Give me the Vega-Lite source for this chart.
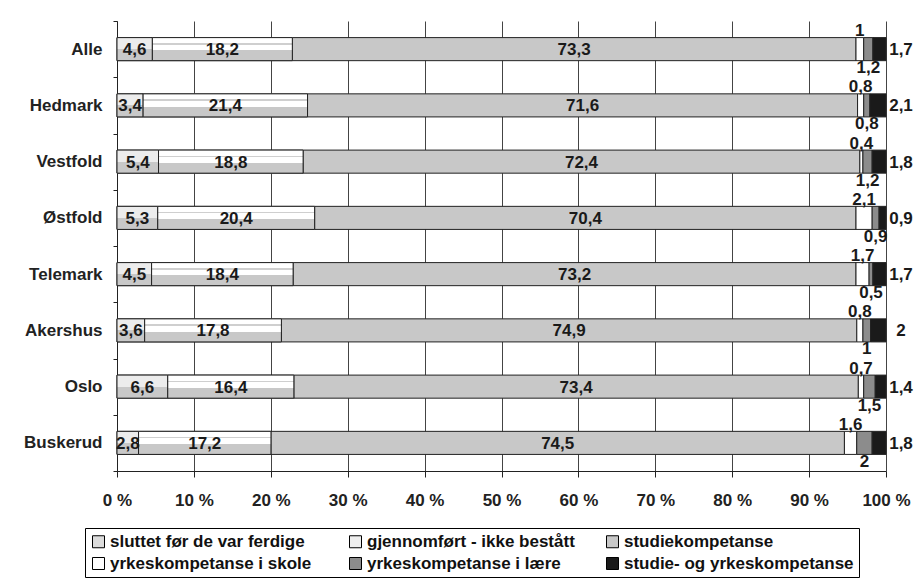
{
  "$schema": "https://vega.github.io/schema/vega-lite/v6.json",
  "width": 769,
  "height": 450,
  "autosize": "none",
  "padding": {"left": 117, "top": 21, "right": 36, "bottom": 116},
  "background": "white",
  "config": {
    "view": {"stroke": null},
    "font": "Liberation Sans"
  },
  "data": {
    "values": [
      {"region": "Alle", "sluttet før de var ferdige": 4.6, "gjennomført - ikke bestått": 18.2, "studiekompetanse": 73.3, "yrkeskompetanse i skole": 1, "yrkeskompetanse i lære": 1.2, "studie- og yrkeskompetanse": 1.7},
      {"region": "Hedmark", "sluttet før de var ferdige": 3.4, "gjennomført - ikke bestått": 21.4, "studiekompetanse": 71.6, "yrkeskompetanse i skole": 0.8, "yrkeskompetanse i lære": 0.8, "studie- og yrkeskompetanse": 2.1},
      {"region": "Vestfold", "sluttet før de var ferdige": 5.4, "gjennomført - ikke bestått": 18.8, "studiekompetanse": 72.4, "yrkeskompetanse i skole": 0.4, "yrkeskompetanse i lære": 1.2, "studie- og yrkeskompetanse": 1.8},
      {"region": "Østfold", "sluttet før de var ferdige": 5.3, "gjennomført - ikke bestått": 20.4, "studiekompetanse": 70.4, "yrkeskompetanse i skole": 2.1, "yrkeskompetanse i lære": 0.9, "studie- og yrkeskompetanse": 0.9},
      {"region": "Telemark", "sluttet før de var ferdige": 4.5, "gjennomført - ikke bestått": 18.4, "studiekompetanse": 73.2, "yrkeskompetanse i skole": 1.7, "yrkeskompetanse i lære": 0.5, "studie- og yrkeskompetanse": 1.7},
      {"region": "Akershus", "sluttet før de var ferdige": 3.6, "gjennomført - ikke bestått": 17.8, "studiekompetanse": 74.9, "yrkeskompetanse i skole": 0.8, "yrkeskompetanse i lære": 1, "studie- og yrkeskompetanse": 2},
      {"region": "Oslo", "sluttet før de var ferdige": 6.6, "gjennomført - ikke bestått": 16.4, "studiekompetanse": 73.4, "yrkeskompetanse i skole": 0.7, "yrkeskompetanse i lære": 1.5, "studie- og yrkeskompetanse": 1.4},
      {"region": "Buskerud", "sluttet før de var ferdige": 2.8, "gjennomført - ikke bestått": 17.2, "studiekompetanse": 74.5, "yrkeskompetanse i skole": 1.6, "yrkeskompetanse i lære": 2, "studie- og yrkeskompetanse": 1.8}
    ]
  },
  "transform": [
    {"fold": ["sluttet før de var ferdige", "gjennomført - ikke bestått", "studiekompetanse", "yrkeskompetanse i skole", "yrkeskompetanse i lære", "studie- og yrkeskompetanse"], "as": ["cat", "value"]},
    {"calculate": "indexof(['sluttet før de var ferdige', 'gjennomført - ikke bestått', 'studiekompetanse', 'yrkeskompetanse i skole', 'yrkeskompetanse i lære', 'studie- og yrkeskompetanse'], datum.cat)", "as": "o"},
    {"calculate": "replace(toString(datum.value), '.', ',')", "as": "label"},
    {"stack": "value", "groupby": ["region"], "sort": [{"field": "o", "order": "ascending"}], "offset": "normalize", "as": ["x0", "x1"]},
    {"calculate": "(datum.x0 + datum.x1) / 2", "as": "mid"}
  ],
  "encoding": {
    "y": {
      "field": "region", "type": "nominal", "title": null,
      "scale": {"domain": ["Alle", "Hedmark", "Vestfold", "Østfold", "Telemark", "Akershus", "Oslo", "Buskerud"], "paddingInner": 0, "paddingOuter": 0},
      "axis": {"tickBand": "extent", "domainColor": "#222", "tickColor": "#222", "tickSize": 4, "labelPadding": 11, "labelFont": "Liberation Sans", "labelFontSize": 17, "labelFontWeight": "bold", "labelColor": "#222", "grid": false}
    }
  },
  "layer": [
    {
      "mark": {"type": "bar", "height": {"band": 0.41}, "stroke": "#222", "strokeWidth": 1},
      "encoding": {
        "x": {"field": "x0", "type": "quantitative", "title": null,
          "scale": {"domain": [0, 1], "nice": false, "zero": false},
          "axis": {"values": [0, 0.1, 0.2, 0.3, 0.4, 0.5, 0.6, 0.7, 0.8, 0.9, 1], "labelExpr": "round(datum.value * 100) + ' %'", "grid": true, "gridColor": "#444", "gridWidth": 1, "domainColor": "#222", "tickColor": "#222", "tickSize": 6, "labelPadding": 15, "labelFont": "Liberation Sans", "labelFontSize": 17, "labelFontWeight": "bold", "labelColor": "#222", "labelFlush": false}},
        "x2": {"field": "x1"},
        "color": {
          "field": "cat", "type": "nominal",
          "scale": {"domain": ["sluttet før de var ferdige", "gjennomført - ikke bestått", "studiekompetanse", "yrkeskompetanse i skole", "yrkeskompetanse i lære", "studie- og yrkeskompetanse"],
                    "range": ["#dcdcdc", "#eeeeee", "#c8c8c8", "#ffffff", "#8c8c8c", "#1a1a1a"]},
          "legend": {"orient": "none", "legendX": -32, "legendY": 507, "columns": 3, "direction": "horizontal", "title": null, "symbolType": "square", "symbolSize": 144, "symbolStrokeColor": "#000", "symbolStrokeWidth": 1, "symbolOpacity": 1, "labelFont": "Liberation Sans", "labelFontSize": 17, "labelFontWeight": "bold", "labelColor": "#111", "labelLimit": 300, "labelOffset": 3, "strokeColor": "#000", "padding": 5, "columnPadding": 7, "rowPadding": 4, "gridAlign": "all"}
        }
      }
    },
    {
      "transform": [{"filter": "datum.o == 0"}],
      "mark": {"type": "bar", "height": {"band": 0.41}, "stroke": "#222", "strokeWidth": 1,
        "fill": {"gradient": "linear", "x1": 0, "y1": 0, "x2": 0, "y2": 1, "stops": [
          {"offset": 0, "color": "#ececec"}, {"offset": 0.5, "color": "#ececec"}, {"offset": 0.5, "color": "#c8c8c8"}, {"offset": 1, "color": "#c8c8c8"}]}},
      "encoding": {"x": {"field": "x0", "type": "quantitative", "title": null, "scale": {"domain": [0, 1], "nice": false, "zero": false},
          "axis": {"values": [0, 0.1, 0.2, 0.3, 0.4, 0.5, 0.6, 0.7, 0.8, 0.9, 1], "labelExpr": "round(datum.value * 100) + ' %'", "grid": true, "gridColor": "#444", "gridWidth": 1, "domainColor": "#222", "tickColor": "#222", "tickSize": 6, "labelPadding": 15, "labelFont": "Liberation Sans", "labelFontSize": 17, "labelFontWeight": "bold", "labelColor": "#222", "labelFlush": false}},
        "x2": {"field": "x1"}}
    },
    {
      "transform": [{"filter": "datum.o == 1"}],
      "mark": {"type": "bar", "height": {"band": 0.41}, "stroke": "#222", "strokeWidth": 1,
        "fill": {"gradient": "linear", "x1": 0, "y1": 0, "x2": 0, "y2": 1, "stops": [
          {"offset": 0, "color": "#ffffff"}, {"offset": 0.24, "color": "#ffffff"}, {"offset": 0.24, "color": "#cfcfcf"}, {"offset": 0.3, "color": "#cfcfcf"}, {"offset": 0.3, "color": "#ffffff"}, {"offset": 0.55, "color": "#ffffff"}, {"offset": 0.55, "color": "#c8c8c8"}, {"offset": 1, "color": "#c8c8c8"}]}},
      "encoding": {"x": {"field": "x0", "type": "quantitative", "title": null, "scale": {"domain": [0, 1], "nice": false, "zero": false},
          "axis": {"values": [0, 0.1, 0.2, 0.3, 0.4, 0.5, 0.6, 0.7, 0.8, 0.9, 1], "labelExpr": "round(datum.value * 100) + ' %'", "grid": true, "gridColor": "#444", "gridWidth": 1, "domainColor": "#222", "tickColor": "#222", "tickSize": 6, "labelPadding": 15, "labelFont": "Liberation Sans", "labelFontSize": 17, "labelFontWeight": "bold", "labelColor": "#222", "labelFlush": false}},
        "x2": {"field": "x1"}}
    },
    {
      "transform": [{"filter": "datum.o <= 2"}],
      "mark": {"type": "text", "font": "Liberation Sans", "fontSize": 17, "fontWeight": "bold", "color": "#1a1a1a", "align": "center", "baseline": "middle", "dy": 1},
      "encoding": {"x": {"field": "mid", "type": "quantitative", "title": null, "scale": {"domain": [0, 1], "nice": false, "zero": false},
          "axis": {"values": [0, 0.1, 0.2, 0.3, 0.4, 0.5, 0.6, 0.7, 0.8, 0.9, 1], "labelExpr": "round(datum.value * 100) + ' %'", "grid": true, "gridColor": "#444", "gridWidth": 1, "domainColor": "#222", "tickColor": "#222", "tickSize": 6, "labelPadding": 15, "labelFont": "Liberation Sans", "labelFontSize": 17, "labelFontWeight": "bold", "labelColor": "#222", "labelFlush": false}},
        "text": {"field": "label"}}
    },
    {
      "transform": [{"filter": "datum.o == 3"}],
      "mark": {"type": "text", "font": "Liberation Sans", "fontSize": 17, "fontWeight": "bold", "color": "#1a1a1a", "align": "center", "baseline": "bottom", "dy": -9},
      "encoding": {"x": {"field": "mid", "type": "quantitative", "title": null, "scale": {"domain": [0, 1], "nice": false, "zero": false},
          "axis": {"values": [0, 0.1, 0.2, 0.3, 0.4, 0.5, 0.6, 0.7, 0.8, 0.9, 1], "labelExpr": "round(datum.value * 100) + ' %'", "grid": true, "gridColor": "#444", "gridWidth": 1, "domainColor": "#222", "tickColor": "#222", "tickSize": 6, "labelPadding": 15, "labelFont": "Liberation Sans", "labelFontSize": 17, "labelFontWeight": "bold", "labelColor": "#222", "labelFlush": false}},
        "text": {"field": "label"}}
    },
    {
      "transform": [{"filter": "datum.o == 4"}],
      "mark": {"type": "text", "font": "Liberation Sans", "fontSize": 17, "fontWeight": "bold", "color": "#1a1a1a", "align": "center", "baseline": "top", "dy": 11},
      "encoding": {"x": {"field": "mid", "type": "quantitative", "title": null, "scale": {"domain": [0, 1], "nice": false, "zero": false},
          "axis": {"values": [0, 0.1, 0.2, 0.3, 0.4, 0.5, 0.6, 0.7, 0.8, 0.9, 1], "labelExpr": "round(datum.value * 100) + ' %'", "grid": true, "gridColor": "#444", "gridWidth": 1, "domainColor": "#222", "tickColor": "#222", "tickSize": 6, "labelPadding": 15, "labelFont": "Liberation Sans", "labelFontSize": 17, "labelFontWeight": "bold", "labelColor": "#222", "labelFlush": false}},
        "text": {"field": "label"}}
    },
    {
      "transform": [{"filter": "datum.o == 5"}],
      "mark": {"type": "text", "font": "Liberation Sans", "fontSize": 17, "fontWeight": "bold", "color": "#1a1a1a", "align": "center", "baseline": "middle", "dx": 15, "dy": 1},
      "encoding": {"x": {"field": "x1", "type": "quantitative", "title": null, "scale": {"domain": [0, 1], "nice": false, "zero": false},
          "axis": {"values": [0, 0.1, 0.2, 0.3, 0.4, 0.5, 0.6, 0.7, 0.8, 0.9, 1], "labelExpr": "round(datum.value * 100) + ' %'", "grid": true, "gridColor": "#444", "gridWidth": 1, "domainColor": "#222", "tickColor": "#222", "tickSize": 6, "labelPadding": 15, "labelFont": "Liberation Sans", "labelFontSize": 17, "labelFontWeight": "bold", "labelColor": "#222", "labelFlush": false}},
        "text": {"field": "label"}}
    }
  ]
}
